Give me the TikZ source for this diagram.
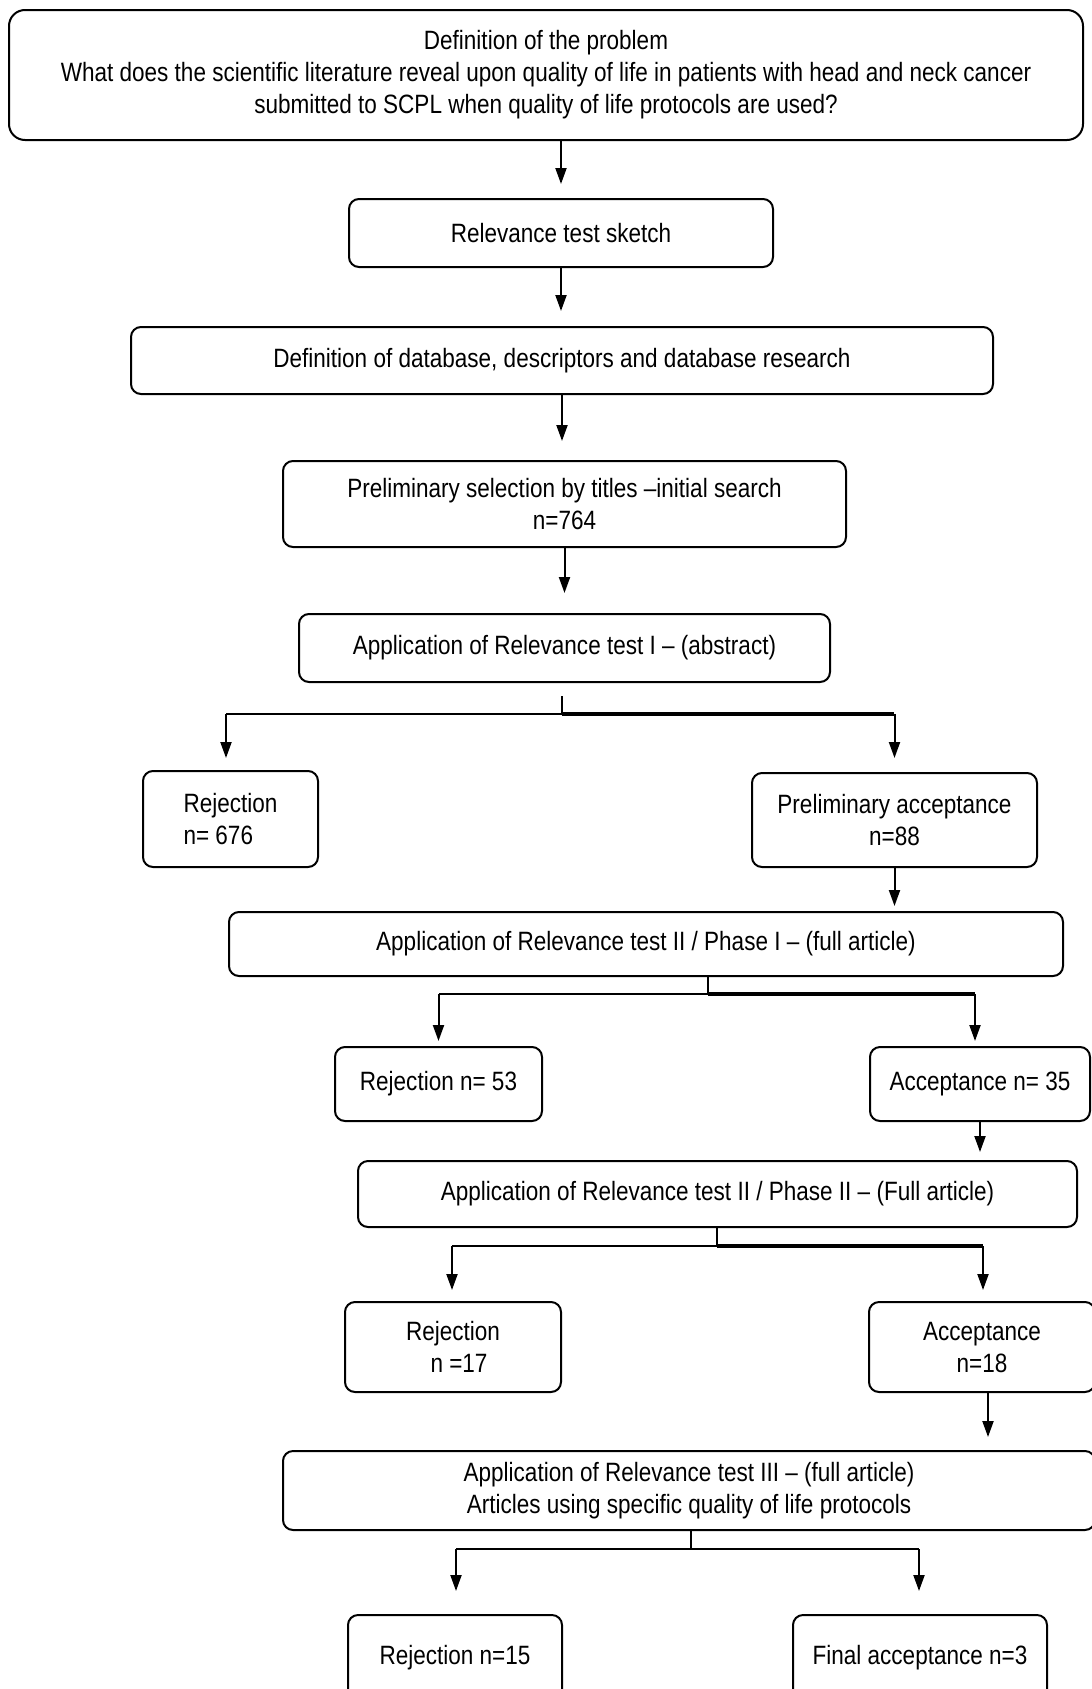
\documentclass[tikz,border=0pt]{standalone}
\usepackage{fontspec}
\setmainfont{Liberation Sans}[FakeStretch=0.85]
\usetikzlibrary{arrows.meta}
\tikzset{
  box/.style={draw, line width=2pt, rounded corners=10pt, align=center, inner sep=0pt,
    font=\fontsize{26.5}{32}\selectfont},
  arr/.style={line width=2pt, -{Triangle[length=16pt,width=11pt]}},
  thin line/.style={line width=1.8pt},
  thick line/.style={line width=3.5pt},
}
\begin{document}
\begin{tikzpicture}[x=1pt,y=-1pt]
\useasboundingbox (0,0) rectangle (1092,1689);
\fill[white] (0,0) rectangle (1092,1689);
\node[box, rounded corners=16pt, minimum width=1074pt, minimum height=130pt] (b1) at (546,75)
  {Definition of the problem\\What does the scientific literature reveal upon quality of life in patients with head and neck cancer\\submitted to SCPL when quality of life protocols are used?};
\node[box, minimum width=424pt, minimum height=68pt] (b2) at (561,233) {Relevance test sketch};
\node[box, minimum width=862pt, minimum height=67pt] (b3) at (562,360.5) {Definition of database, descriptors and database research};
\node[box, minimum width=563pt, minimum height=86pt] (b4) at (564.5,504) {Preliminary selection by titles –initial search\\n=764};
\node[box, minimum width=531pt, minimum height=68pt] (b5) at (564.5,648) {Application of Relevance test I – (abstract)};
\node[box, minimum width=175pt, minimum height=96pt, align=left] (r1) at (230.5,819) {Rejection\\n= 676};
\node[box, minimum width=285pt, minimum height=94pt] (a1) at (894.5,820) {Preliminary acceptance\\n=88};
\node[box, minimum width=834pt, minimum height=64pt] (b6) at (646,944) {Application of Relevance test II / Phase I – (full article)};
\node[box, minimum width=207pt, minimum height=74pt] (r2) at (438.5,1084) {Rejection n= 53};
\node[box, minimum width=220pt, minimum height=74pt] (a2) at (980,1084) {Acceptance n= 35};
\node[box, minimum width=719pt, minimum height=66pt] (b7) at (717.5,1194) {Application of Relevance test II / Phase II – (Full article)};
\node[box, minimum width=216pt, minimum height=90pt] (r3) at (453,1347) {Rejection\\\hspace*{12pt}n =17};
\node[box, minimum width=226pt, minimum height=90pt] (a3) at (982,1347) {Acceptance\\n=18};
\node[box, minimum width=812pt, minimum height=79pt] (b8) at (689,1490.5) {Application of Relevance test III – (full article)\\Articles using specific quality of life protocols};
\node[box, minimum width=214pt, minimum height=85pt] (r4) at (455,1657.5) {Rejection n=15};
\node[box, minimum width=254pt, minimum height=85pt] (a4) at (920,1657.5) {Final acceptance n=3};

% straight arrows
\draw[arr, shorten >=14pt] (b1.south -| b2.north) -- (b2.north);
\draw[arr, shorten >=15pt] (b2.south) -- (b3.north -| b2.south);
\draw[arr, shorten >=19pt] (b3.south) -- (b4.north -| b3.south);
\draw[arr, shorten >=20pt] (b4.south -| b5.north) -- (b5.north);
\draw[arr, shorten >=5pt] (a1.south) -- (b6.north -| a1.south);
\draw[arr, shorten >=8pt] (a2.south) -- (b7.north -| a2.south);
\draw[arr, shorten >=13pt] (a3.south -| 988,0) -- (b8.north -| 988,0);

% split 1
\coordinate (j1) at (562,714);
\draw[thin line] ([yshift=-13pt]b5.south -| j1) -- (j1);
\draw[thin line] (j1) -- (j1 -| 226,0);
\draw[thick line] (j1) -- (j1 -| 894,0);
\draw[arr, shorten >=12pt] (j1 -| 226,0) -- (r1.north -| 226,0);
\draw[arr, shorten >=14pt] (j1 -| a1.north) -- (a1.north);

% split 2
\coordinate (j2) at (708,994);
\draw[thin line] (b6.south -| j2) -- (j2);
\draw[thin line] (j2) -- (j2 -| r2.north);
\draw[thick line] (j2) -- (j2 -| 975,0);
\draw[arr, shorten >=5pt] (j2 -| r2.north) -- (r2.north);
\draw[arr, shorten >=5pt] (j2 -| 975,0) -- (r2.north -| 975,0);

% split 3
\coordinate (j3) at (717,1246);
\draw[thin line] (b7.south -| j3) -- (j3);
\draw[thin line] (j3) -- (j3 -| 452,0);
\draw[thick line] (j3) -- (j3 -| 983,0);
\draw[arr, shorten >=11pt] (j3 -| 452,0) -- (r3.north -| 452,0);
\draw[arr, shorten >=11pt] (j3 -| 983,0) -- (a3.north -| 983,0);

% split 4
\coordinate (j4) at (691,1549);
\draw[thin line] (b8.south -| j4) -- (j4);
\draw[thin line] (j4) -- (j4 -| 456,0);
\draw[thin line] (j4) -- (j4 -| 919,0);
\draw[arr, shorten >=23pt] (j4 -| 456,0) -- (r4.north -| 456,0);
\draw[arr, shorten >=23pt] (j4 -| 919,0) -- (a4.north -| 919,0);
\end{tikzpicture}
\end{document}
